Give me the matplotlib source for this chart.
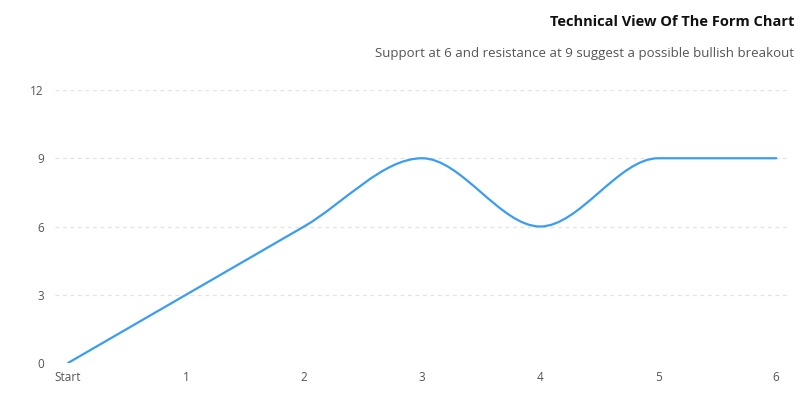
import numpy as np
import matplotlib
matplotlib.use("Agg")
import matplotlib.pyplot as plt
from matplotlib.path import Path
from matplotlib.patches import PathPatch

plt.rcParams['font.family'] = ['Open Sans', 'DejaVu Sans']

categories = ["Start", "1", "2", "3", "4", "5", "6"]
values = [0, 3, 6, 9, 6, 9, 9]
y_ticks = [0, 3, 6, 9, 12]
title = "Technical View Of The Form Chart"
subtitle = "Support at 6 and resistance at 9 suggest a possible bullish breakout"

W, H = 808, 407
fig = plt.figure(figsize=(W / 100, H / 100), dpi=100)
ax = fig.add_axes([55 / W, 1 - 363 / H, (788 - 55) / W, (363 - 90) / H])

x = np.arange(len(values), dtype=float)
y = np.array(values, dtype=float)
n = len(x)

# monotone-x slopes (d3 style)
def sgn(v):
    return -1.0 if v < 0 else 1.0

t = np.zeros(n)
for i in range(1, n - 1):
    h0 = x[i] - x[i - 1]
    h1 = x[i + 1] - x[i]
    s0 = (y[i] - y[i - 1]) / h0
    s1 = (y[i + 1] - y[i]) / h1
    p = (s0 * h1 + s1 * h0) / (h0 + h1)
    t[i] = (sgn(s0) + sgn(s1)) * min(abs(s0), abs(s1), 0.5 * abs(p)) if s0 != 0 and s1 != 0 else 0.0
h = x[1] - x[0]
t[0] = (3 * (y[1] - y[0]) / h - t[1]) / 2
h = x[-1] - x[-2]
t[-1] = (3 * (y[-1] - y[-2]) / h - t[-2]) / 2

verts = [(x[0], y[0])]
codes = [Path.MOVETO]
for i in range(n - 1):
    dx = (x[i + 1] - x[i]) / 3
    verts += [(x[i] + dx, y[i] + t[i] * dx), (x[i + 1] - dx, y[i + 1] - t[i + 1] * dx), (x[i + 1], y[i + 1])]
    codes += [Path.CURVE4] * 3
ax.add_patch(PathPatch(Path(verts, codes), fill=False, edgecolor='#3a9df5', lw=1.6, capstyle='round', joinstyle='round', zorder=3))

ax.set_xlim(-0.11, 6.1)
ax.set_ylim(0, 12)
ax.set_xticks(x)
ax.set_xticklabels(categories)
ax.set_yticks(y_ticks)
for yt in y_ticks:
    ax.axhline(yt, color='#e3e3e3', lw=0.9, ls=(0, (3, 3)), zorder=1)
for s in ax.spines.values():
    s.set_visible(False)
ax.tick_params(length=0, colors='#555555', labelsize=8.5)
ax.tick_params(axis='y', pad=8)
ax.tick_params(axis='x', pad=6)

fig.text(794 / W, 1 - 22 / H, title, ha='right', va='center', fontsize=10.5, fontweight='bold', color='#111111')
fig.text(794 / W, 1 - 53 / H, subtitle, ha='right', va='center', fontsize=9.5, color='#555555')

fig.savefig('out.png', dpi=100)
